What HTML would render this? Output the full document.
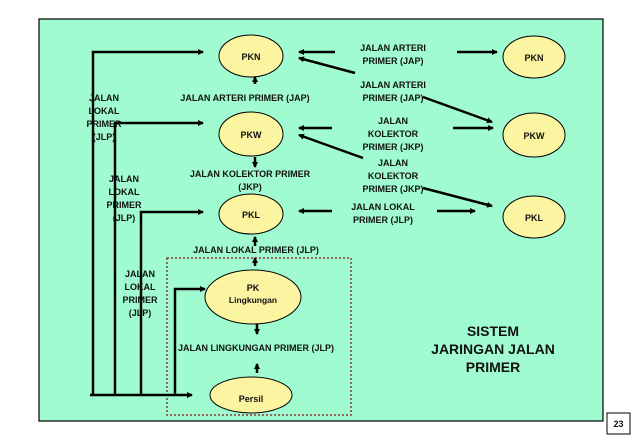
<!DOCTYPE html>
<html><head><meta charset="utf-8"><style>
body{margin:0;width:638px;height:442px;background:#fff;overflow:hidden}
svg{display:block}
text{font-family:"Liberation Sans",Arial,sans-serif;font-weight:bold;font-size:9px;fill:#111;text-anchor:middle}
</style></head><body>
<svg width="638" height="442" viewBox="0 0 638 442">
<defs><marker id="a" markerWidth="6" markerHeight="6" refX="5" refY="3" orient="auto" markerUnits="userSpaceOnUse"><path d="M0,0 L6,3 L0,6z" fill="#000"/></marker></defs>
<rect x="39" y="19" width="564" height="402" fill="#a0fcd0" stroke="#000" stroke-width="1.2"/>
<rect x="607" y="413" width="23" height="21" fill="#fff" stroke="#000"/>
<text x="618.5" y="427" style="font-size:9px">23</text>
<rect x="167" y="258" width="184" height="157" fill="none" stroke="#8a3a3a" stroke-width="1.5" stroke-dasharray="2,2"/>
<g fill="#fbf4a0" stroke="#000" stroke-width="1">
<ellipse cx="251" cy="56" rx="32" ry="21"/><ellipse cx="534" cy="57" rx="31" ry="21"/>
<ellipse cx="251" cy="134" rx="32" ry="22"/><ellipse cx="534" cy="135" rx="31" ry="22"/>
<ellipse cx="251" cy="214" rx="32" ry="20"/><ellipse cx="534" cy="217" rx="31" ry="21"/>
<ellipse cx="253" cy="297" rx="48" ry="27"/><ellipse cx="251" cy="395" rx="41" ry="18"/>
</g>
<g stroke="#000" stroke-width="2.5" fill="none" marker-end="url(#a)">
<path d="M93,395 V52 H203"/><path d="M115,395 V123 H203"/><path d="M141,395 V212 H203"/><path d="M175,395 V289 H205"/>
<path d="M90,395 H192"/>
<path d="M255,84 V77"/><path d="M255,157 V167"/><path d="M255,246 V237"/><path d="M255,266 V258"/>
<path d="M257,324 V334"/><path d="M257,373 V364"/>
<path d="M335,52 H299"/><path d="M355,73 L299,58"/><path d="M457,52 H497"/><path d="M423,97 L492,122"/>
<path d="M332,128 H299"/><path d="M363,158 L299,135"/><path d="M453,128 H493"/><path d="M423,188 L492,206"/>
<path d="M332,211 H299"/><path d="M437,211 H475"/>
</g>
<text x="251" y="60">PKN</text><text x="534" y="61">PKN</text>
<text x="251" y="138">PKW</text><text x="534" y="139">PKW</text>
<text x="251" y="218">PKL</text><text x="534" y="221">PKL</text>
<text x="253" y="291">PK</text><text x="253" y="303" style="font-size:8.5px">Lingkungan</text>
<text x="251" y="402">Persil</text>
<text x="393" y="51">JALAN ARTERI</text><text x="393" y="64">PRIMER (JAP)</text>
<text x="393" y="88">JALAN ARTERI</text><text x="393" y="101">PRIMER (JAP)</text>
<text x="393" y="124">JALAN</text><text x="393" y="137">KOLEKTOR</text><text x="393" y="150">PRIMER (JKP)</text>
<text x="393" y="166">JALAN</text><text x="393" y="179">KOLEKTOR</text><text x="393" y="192">PRIMER (JKP)</text>
<text x="383" y="210">JALAN LOKAL</text><text x="383" y="223">PRIMER (JLP)</text>
<text x="245" y="101">JALAN ARTERI PRIMER (JAP)</text>
<text x="250" y="177">JALAN KOLEKTOR PRIMER</text><text x="250" y="190">(JKP)</text>
<text x="256" y="253">JALAN LOKAL PRIMER (JLP)</text>
<text x="256" y="351">JALAN LINGKUNGAN PRIMER (JLP)</text>
<text x="104" y="101">JALAN</text><text x="104" y="114">LOKAL</text><text x="104" y="127">PRIMER</text><text x="104" y="140">(JLP)</text>
<text x="124" y="182">JALAN</text><text x="124" y="195">LOKAL</text><text x="124" y="208">PRIMER</text><text x="124" y="221">(JLP)</text>
<text x="140" y="277">JALAN</text><text x="140" y="290">LOKAL</text><text x="140" y="303">PRIMER</text><text x="140" y="316">(JLP)</text>
<text x="493" y="336" style="font-size:14px">SISTEM</text>
<text x="493" y="354" style="font-size:14px">JARINGAN JALAN</text>
<text x="493" y="372" style="font-size:14px">PRIMER</text>
</svg>
</body></html>
